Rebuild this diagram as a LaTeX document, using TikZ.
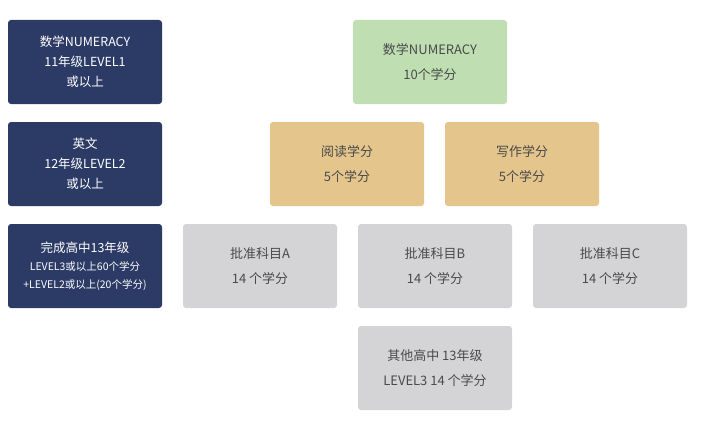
\documentclass[tikz,border=0pt]{standalone}
\usepackage{fontspec}
\setmainfont{Noto Sans CJK SC}
\definecolor{navy}{HTML}{2C3A66}
\definecolor{mint}{HTML}{BFDFB3}
\definecolor{sand}{HTML}{E4C58C}
\definecolor{stone}{HTML}{D4D4D6}
\definecolor{ink}{HTML}{4A4A4A}
\tikzset{
  card/.style={rounded corners=3pt, minimum width=154pt, minimum height=84pt,
    align=center, font=\fontsize{13}{25}\selectfont, text=ink},
  reqcard/.style={card, fill=navy, text=white, font=\fontsize{12.5}{20}\selectfont},
}
\begin{document}
\begin{tikzpicture}[x=1pt, y=-1pt]
    \useasboundingbox (0,0) rectangle (712,428);

    % Requirements on the left
    \node[reqcard] (numreq) at (85, 62) {数学NUMERACY\\11年级LEVEL1\\或以上};
    \node[reqcard] (engreq) at (85, 164) {英文\\12年级LEVEL2\\或以上};
    \node[reqcard, font=\fontsize{10.5}{18}\selectfont] (ncea) at (85, 266)
        {{\fontsize{12.5}{18}\selectfont 完成高中13年级}\\LEVEL3或以上60个学分\\+LEVEL2或以上(20个学分)};

    % Numeracy row
    \node[card, fill=mint] (num) at (430, 62) {数学NUMERACY\\10个学分};

    % Literacy row
    \node[card, fill=sand] (read) at (347, 164) {阅读学分\\5个学分};
    \node[card, fill=sand] (write) at (522, 164) {写作学分\\5个学分};

    % Approved subjects
    \foreach \name/\x/\lab in {subA/260/A, subB/435/B, subC/610/C} {
        \node[card, fill=stone] (\name) at (\x, 266) {批准科目\lab\\14 个学分};
    }

    % Other level 3
    \node[card, fill=stone] (other) at (435, 368) {其他高中 13年级\\LEVEL3 14 个学分};
\end{tikzpicture}
\end{document}
